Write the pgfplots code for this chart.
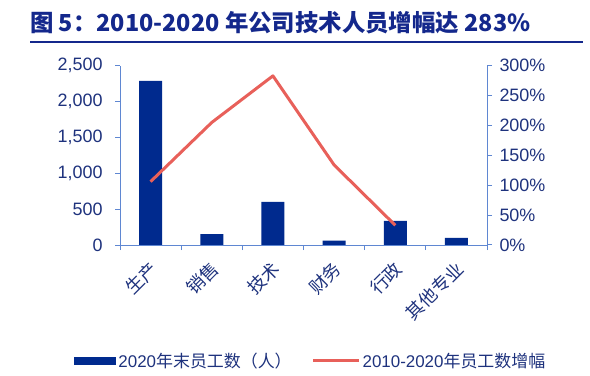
\documentclass[border=0pt]{standalone}
\usepackage{pgfplots}
\pgfplotsset{compat=1.18}
\usepackage{fontspec}
\setmainfont{Liberation Sans}
\newfontfamily\cjk{Noto Sans CJK SC}
\definecolor{barblue}{RGB}{0,42,142}
\definecolor{linered}{RGB}{232,96,90}
\definecolor{axblue}{RGB}{95,135,210}
\definecolor{txtblue}{RGB}{30,50,125}
\definecolor{titblue}{RGB}{20,40,140}
\begin{document}
\begin{tikzpicture}
\useasboundingbox (0,0) rectangle (590bp,376bp);
\node[anchor=west,inner sep=0pt,text=titblue,font=\cjk\bfseries\fontsize{23.5}{27}\selectfont] at (30bp,353.5bp) {图 5：2010-2020 年公司技术人员增幅达 283\%};
\draw[titblue,line width=2bp] (30bp,334bp) -- (583bp,334bp);
\begin{axis}[
  at={(120bp,131bp)}, anchor=south west,
  scale only axis, width=367bp, height=179.3bp,
  xmin=-0.5, xmax=5.5, ymin=0, ymax=2500,
  axis x line*=bottom, axis y line*=left,
  axis line style={axblue, line width=1pt},
  xtick={0,...,5},
  xticklabels={{\cjk 生产},{\cjk 销售},{\cjk 技术},{\cjk 财务},{\cjk 行政},{\cjk 其他专业}},
  major x tick style={draw=none},
  minor xtick={-0.5,0.5,...,5.5},
  minor tick length=5bp,
  minor x tick style={axblue, line width=1pt},
  ytick={0,500,...,2500},
  major tick length=5bp,
  y tick style={axblue, line width=1pt},
  tick align=outside,
  xticklabel style={xshift=5bp, yshift=-14bp, rotate=45, anchor=east, font=\fontsize{18}{20}\selectfont, text=txtblue, inner sep=2pt},
  yticklabel style={xshift=-9bp, font=\fontsize{18}{20}\selectfont, text=txtblue},
  /pgf/number format/.cd, 1000 sep={,}, assume math mode=true, /pgfplots/.cd,
  legend style={at={(0.52,-0.645)}, anchor=center, draw=none, fill=none,
    legend columns=2, font=\fontsize{17}{19}\selectfont, text=txtblue,
    /tikz/every even column/.append style={column sep=18bp}},
]
\addplot[ybar, bar width=23bp, fill=barblue, draw=none,
  legend image code/.code={\fill[barblue] (0bp,-4bp) rectangle (42bp,4bp);}]
  coordinates {(0,2290) (1,150) (2,600) (3,60) (4,335) (5,100)};
\addlegendentry{2020{\cjk 年末员工数（人）}}
\addlegendimage{linered, line width=3bp, legend image code/.code={\draw[linered,line width=3bp] (0bp,0bp) -- (46bp,0bp);}}
\addlegendentry{2010-2020{\cjk 年员工数增幅}}
\end{axis}
\begin{axis}[
  at={(120bp,131bp)}, anchor=south west,
  scale only axis, width=367bp, height=179.3bp,
  xmin=-0.5, xmax=5.5, ymin=0, ymax=300,
  axis x line=none, axis y line*=right,
  axis line style={axblue, line width=1pt},
  ytick={0,50,...,300},
  yticklabel={\pgfmathprintnumber{\tick}\%},
  major tick length=5bp,
  y tick style={axblue, line width=1pt},
  tick align=outside,
  yticklabel style={xshift=4bp, font=\fontsize{18}{20}\selectfont, text=txtblue},
  /pgf/number format/.cd, assume math mode=true, /pgfplots/.cd,
]
\addplot[linered, line width=3bp, line join=round, mark=none]
  coordinates {(0,106) (1,205) (2,283) (3,134) (4,33)};
\end{axis}
\end{tikzpicture}
\end{document}
